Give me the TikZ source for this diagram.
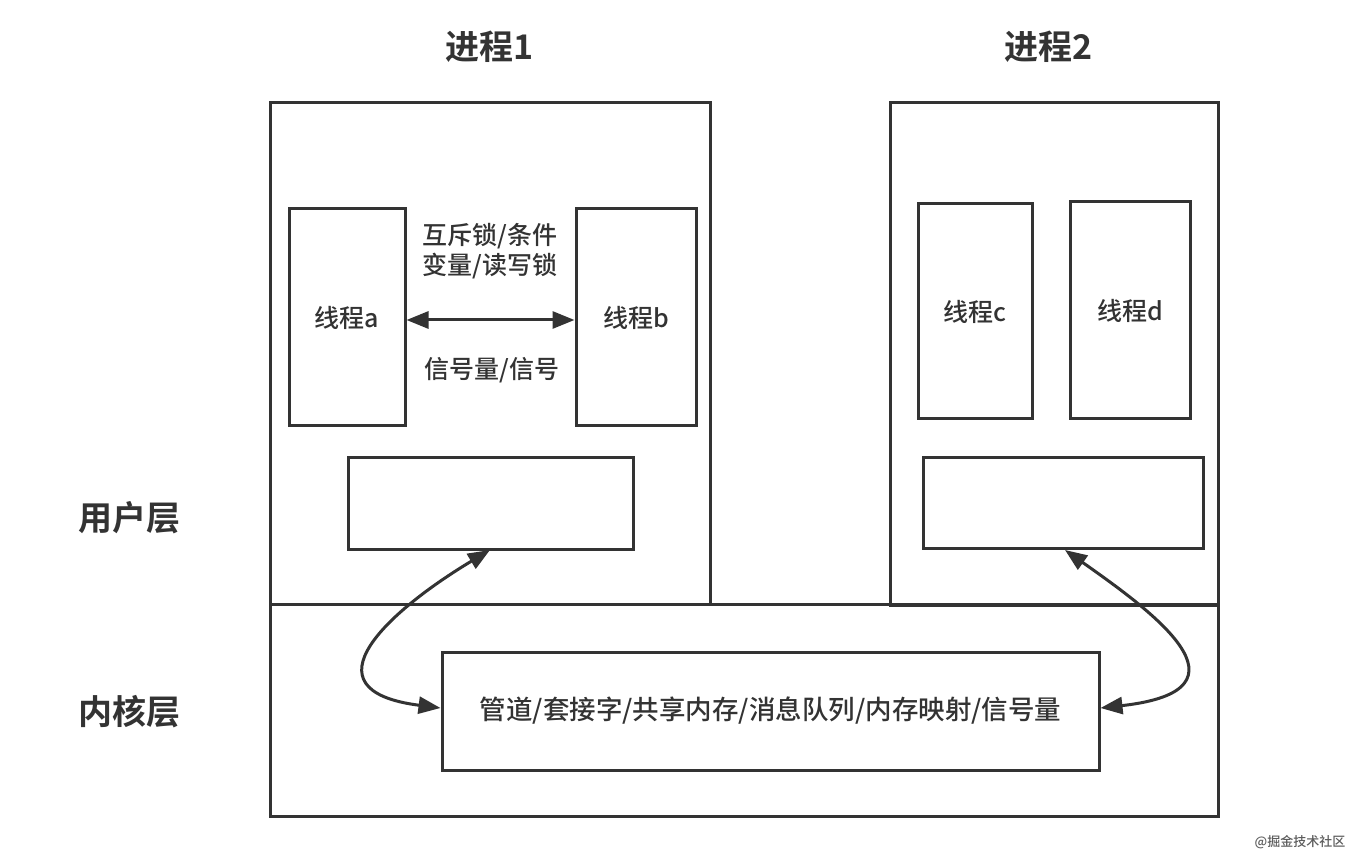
\documentclass[tikz,border=0pt]{standalone}
\usepackage{fontspec}
\setmainfont{Noto Sans CJK SC Medium}
\newfontfamily\cjkb{Noto Sans CJK SC Bold}
\usetikzlibrary{arrows.meta}
\definecolor{ink}{RGB}{51,51,51}
\tikzset{
  box/.style={draw=ink, line width=3pt},
  lbl/.style={text=ink, font=\fontsize{25}{30}\selectfont, align=center},
  ttl/.style={text=ink, font=\fontsize{34}{38}\selectfont\cjkb},
  arr/.style={draw=ink, line width=3pt, {Triangle[length=22pt,width=17pt]}-{Triangle[length=22pt,width=17pt]}},
}
\begin{document}
\begin{tikzpicture}[x=1pt,y=-1pt]
\useasboundingbox (0,0) rectangle (1366,866);
\fill[white] (0,0) rectangle (1366,866);
% outer boxes
\draw[box] (270,604) rectangle (1218,816);
\draw[box] (270,103) rectangle (710,604);
\draw[box] (890,103) rectangle (1218,605);
% titles
\node[ttl] (t1) at (490,47) {进程1};
\node[ttl] (t2) at (1049,47) {进程2};
\node[ttl] (user) at (129,518) {用户层};
\node[ttl] (kern) at (129,712) {内核层};
% threads
\node[box, lbl, minimum width=116pt, minimum height=217pt] (ta) at (347,317.5) {线程a};
\node[box, lbl, minimum width=120pt, minimum height=217pt] (tb) at (636,317.5) {线程b};
\node[box, lbl, minimum width=114pt, minimum height=215pt] (tc) at (975,311.5) {线程c};
\node[box, lbl, minimum width=120pt, minimum height=217pt] (td) at (1130,310.5) {线程d};
% blank rects
\node[box, minimum width=285pt, minimum height=91pt] (r1) at (490.5,503.5) {};
\node[box, minimum width=280pt, minimum height=90pt] (r2) at (1063,503) {};
% kernel inner
\node[box, lbl, font=\fontsize{26.5}{30}\selectfont, minimum width=657pt, minimum height=118pt] (k) at (770.5,711) {管道/套接字/共享内存/消息队列/内存映射/信号量};
% thread sync
\node[lbl] (s1) at (490,251) {互斥锁/条件\\变量/读写锁};
\node[lbl] (s2) at (492,370) {信号量/信号};
\draw[arr] (ta.east |- 0,320) -- (tb.west |- 0,320);
% curved arrows
\coordinate (a1) at (490,550);
\coordinate (b1) at (1065,550);
\draw[arr] (k.west |- 0,708) .. controls (300,690) and (390,610) .. (a1);
\draw[arr] (k.east |- 0,708) .. controls (1262,690) and (1150,610) .. (b1);
% watermark
\node[text=ink!80, font=\fontsize{13}{15}\selectfont] (wm) at (1300,842) {@掘金技术社区};
\end{tikzpicture}
\end{document}
